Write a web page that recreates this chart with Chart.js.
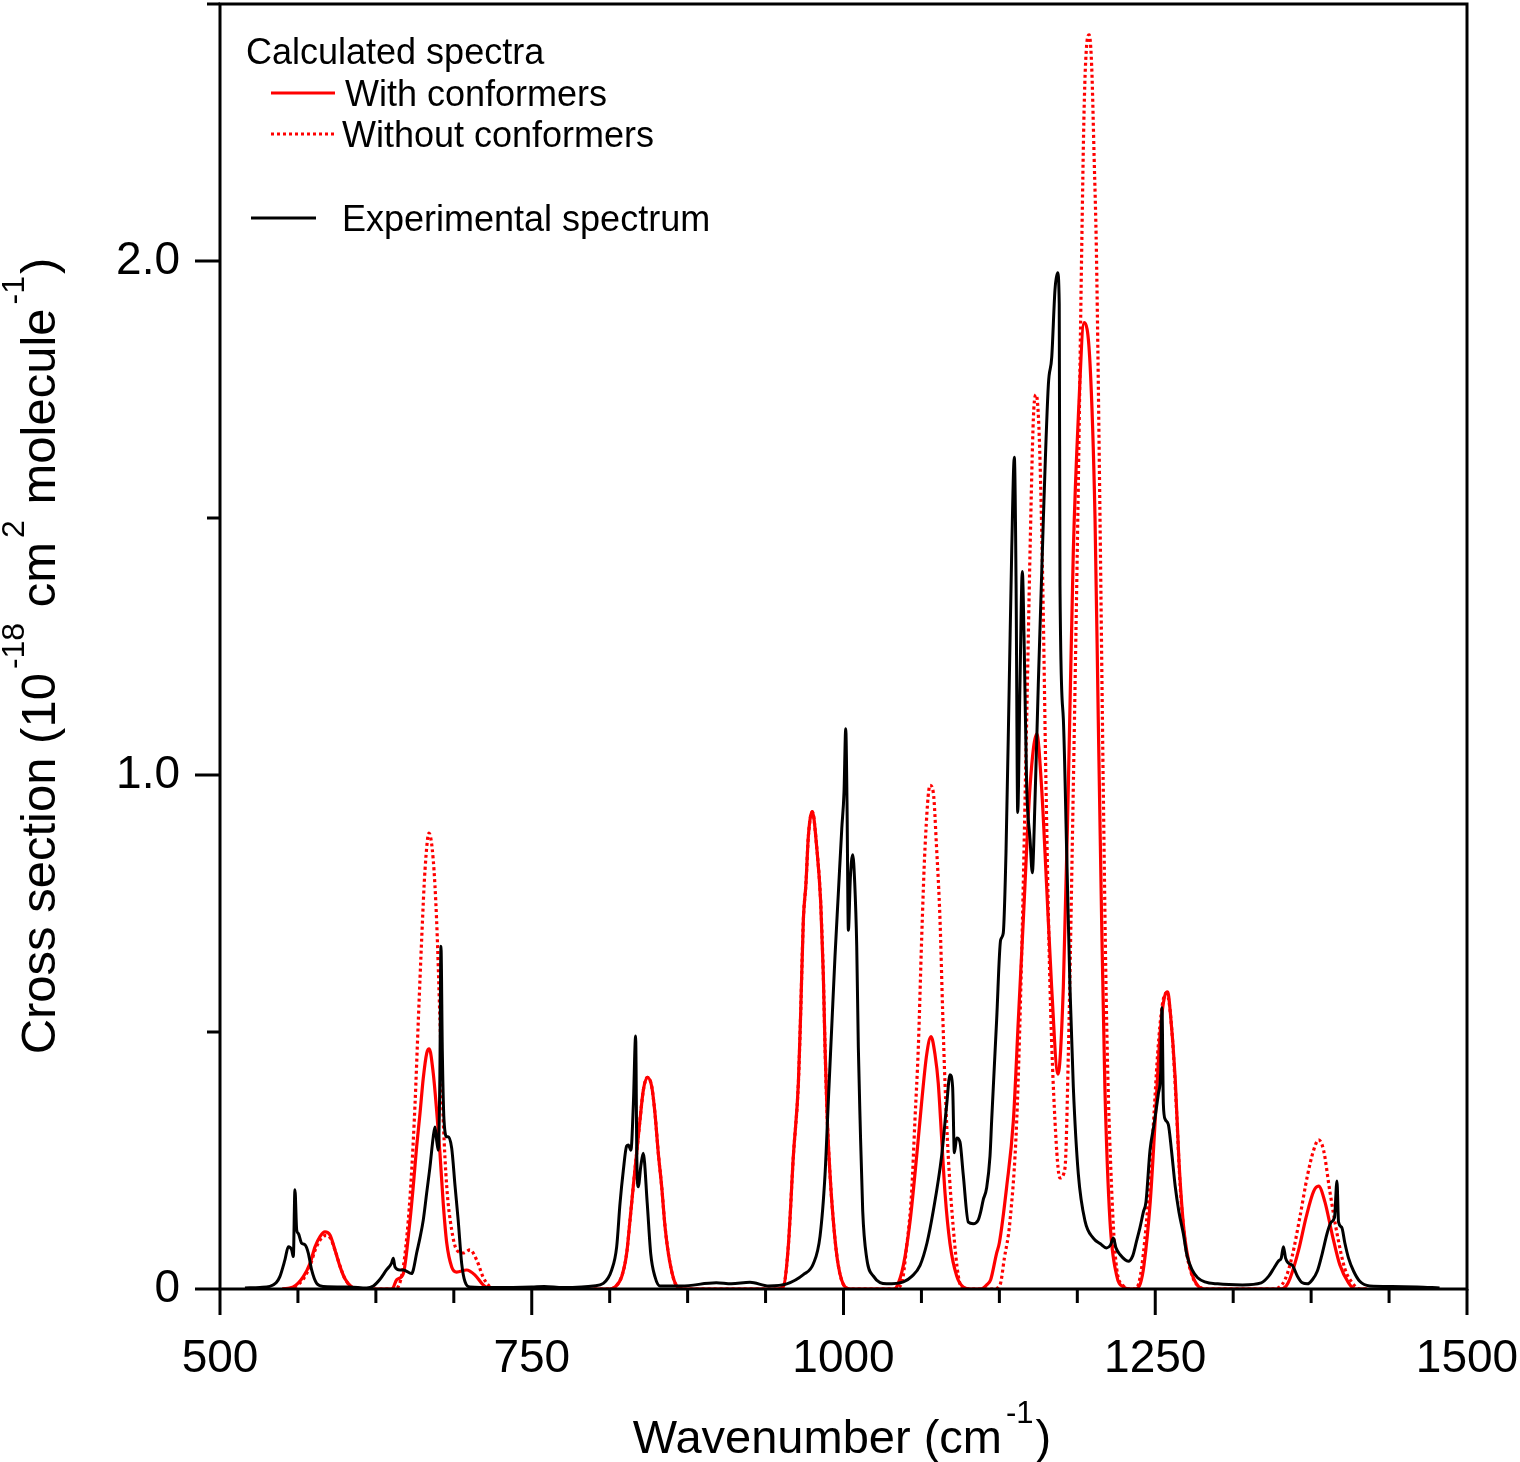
<!DOCTYPE html>
<html>
<head>
<meta charset="utf-8">
<title>IR cross section</title>
<script src="https://cdn.jsdelivr.net/npm/chart.js@4/dist/chart.umd.min.js"></script>
<style>
  html, body { margin: 0; padding: 0; background: #fff; }
  canvas { display: block; }
</style>
</head>
<body>
<canvas id="spectra" width="1520" height="1462"></canvas>
<script>
// --- Data (wavenumber in cm-1, cross section in 1e-18 cm2/molecule) ---
const expWavenumber = [
  520, 532, 540, 545, 548, 552, 554.8, 557.5, 558.8, 560.1,
  561.5, 562.8, 565.5, 568.2, 570.8, 573.5, 577.5, 583, 604, 617.6,
  623, 628, 633.5, 637.5, 639, 640.3, 644.3, 647, 653.7, 655,
  657.7, 660.4, 663, 665.7, 668.4, 671, 672.4, 673.7, 675, 676.3,
  677.2, 678.3, 679.6, 682, 683, 685.8, 688.5, 691, 693.8, 696.5,
  700.5, 720, 750, 760, 775, 790, 799.4, 807.4, 814.1, 818.1,
  820.8, 823.4, 826.1, 827.5, 829.5, 831.5, 833.3, 834.3, 835.4, 837.5,
  839.4, 842.6, 845.4, 848.8, 852.8, 870, 898, 910, 925, 940,
  954.5, 967.8, 975.8, 981.2, 985.2, 987.8, 990.5, 993.2, 995.8, 998.6,
  1000.4, 1001.8, 1002.8, 1003.9, 1005.5, 1007.4, 1009, 1010.6, 1011.9, 1013.3,
  1015.4, 1018.6, 1024, 1034.6, 1048, 1055, 1061.4, 1067, 1072, 1078.7,
  1082.7, 1085.4, 1087.5, 1088.9, 1090.8, 1093.4, 1096, 1100.1, 1104, 1108,
  1110, 1112, 1114.8, 1117.5, 1118.8, 1122.8, 1126, 1128.1, 1130.3, 1132.9,
  1134.9, 1137, 1138.4, 1139.7, 1141.5, 1143.4, 1145, 1146.9, 1149.6, 1151.4,
  1153.6, 1156.2, 1160.3, 1164.3, 1167, 1169.6, 1171.7, 1173, 1173.6, 1176.3,
  1179, 1181.6, 1184.3, 1188.3, 1193.7, 1200.3, 1206, 1211, 1214, 1216.4,
  1218.5, 1221.7, 1228.4, 1232, 1235, 1237.7, 1240.5, 1242.6, 1245.8, 1249,
  1252.5, 1254.3, 1255.4, 1256.5, 1258, 1260.5, 1263, 1266, 1269, 1272.5,
  1275.5, 1279.6, 1284, 1289.7, 1300, 1320, 1335, 1341, 1345, 1349,
  1351, 1352.8, 1354.5, 1357, 1360, 1364, 1368, 1372, 1376, 1380,
  1384, 1388, 1391, 1393.8, 1395.7, 1397, 1399.5, 1402, 1405, 1409,
  1414, 1422, 1440, 1460, 1478
];
const expCross = [
  0.002, 0.003, 0.005, 0.012, 0.024, 0.056, 0.082, 0.076, 0.063, 0.193,
  0.115, 0.108, 0.089, 0.086, 0.07, 0.037, 0.011, 0.005, 0.004, 0.002,
  0.006, 0.018, 0.037, 0.05, 0.06, 0.043, 0.037, 0.037, 0.03, 0.037,
  0.07, 0.1, 0.134, 0.186, 0.238, 0.296, 0.315, 0.29, 0.27, 0.41,
  0.667, 0.46, 0.33, 0.296, 0.296, 0.274, 0.2, 0.134, 0.05, 0.014,
  0.004, 0.003, 0.004, 0.005, 0.003, 0.004, 0.006, 0.011, 0.037, 0.082,
  0.167, 0.23, 0.278, 0.28, 0.27, 0.36, 0.492, 0.25, 0.199, 0.24,
  0.264, 0.167, 0.069, 0.024, 0.006, 0.006, 0.012, 0.01, 0.013, 0.006,
  0.01, 0.028, 0.049, 0.103, 0.223, 0.364, 0.506, 0.648, 0.767, 0.895,
  0.966, 1.09, 0.95, 0.698, 0.8, 0.845, 0.79, 0.668, 0.47, 0.329,
  0.152, 0.06, 0.025, 0.01, 0.014, 0.025, 0.046, 0.09, 0.152, 0.259,
  0.357, 0.417, 0.393, 0.265, 0.294, 0.286, 0.223, 0.13, 0.127, 0.134,
  0.15, 0.173, 0.197, 0.259, 0.327, 0.523, 0.679, 0.692, 0.848, 1.175,
  1.436, 1.618, 1.37, 0.927, 1.175, 1.396, 1.239, 0.978, 0.875, 0.81,
  0.953, 1.175, 1.5, 1.76, 1.813, 1.944, 1.977, 1.917, 1.37, 1.109,
  0.848, 0.588, 0.393, 0.224, 0.132, 0.099, 0.088, 0.08, 0.085, 0.099,
  0.08, 0.067, 0.054, 0.065, 0.093, 0.119, 0.15, 0.17, 0.27, 0.32,
  0.38, 0.42, 0.547, 0.36, 0.33, 0.32, 0.27, 0.2, 0.15, 0.108,
  0.065, 0.037, 0.022, 0.014, 0.01, 0.008, 0.012, 0.025, 0.04, 0.055,
  0.06, 0.082, 0.06, 0.05, 0.046, 0.025, 0.012, 0.01, 0.018, 0.035,
  0.07, 0.11, 0.13, 0.14, 0.21, 0.13, 0.12, 0.09, 0.06, 0.035,
  0.015, 0.006, 0.005, 0.004, 0.002
];

const withWavenumber = [
  550, 558.8, 566.8, 572.2, 576.2, 580.2, 584.2, 588.2, 592.2, 596.2,
  600.2, 605.6, 612, 638, 641.7, 647, 652.4, 655, 657.7, 660.4,
  663, 665.8, 667.8, 671, 673.7, 676.4, 679, 681.8, 685.8, 689.8,
  697.8, 704.5, 711, 716, 812, 816.8, 822.1, 826.1, 828.8, 831.4,
  834.1, 836.8, 839.5, 842.7, 846.2, 848.8, 851.5, 854.2, 856.9, 860.9,
  866.2, 872, 946, 951.7, 955.7, 959.8, 963.8, 965.7, 967.8, 969.9,
  971.8, 975, 978.5, 981.7, 983.8, 985.2, 987, 989.2, 992.4, 995.8,
  1001.2, 1006, 1040, 1042.6, 1048, 1053.3, 1058.7, 1062.7, 1066.7, 1070.2,
  1073.4, 1076, 1078.7, 1081.4, 1085.4, 1090.8, 1096, 1102, 1110, 1114.8,
  1118, 1122.8, 1125, 1130.9, 1136.2, 1140.2, 1144.2, 1149.6, 1155, 1158.8,
  1162.9, 1166.9, 1172, 1176.3, 1180.3, 1184.3, 1188.3, 1193, 1197.7, 1201.7,
  1204.3, 1207, 1209.6, 1213.7, 1219, 1224.4, 1230, 1234, 1238, 1241,
  1246, 1250, 1254, 1257.6, 1260, 1262, 1266, 1269, 1273, 1278.5,
  1285, 1290, 1350, 1355, 1358, 1365, 1371, 1377, 1381, 1386,
  1392, 1398, 1405, 1410, 1420
];
const withCross = [
  0, 0.004, 0.024, 0.05, 0.082, 0.102, 0.111, 0.105, 0.076, 0.044,
  0.02, 0.004, 0, 0, 0.018, 0.03, 0.134, 0.2, 0.277, 0.342,
  0.41, 0.459, 0.467, 0.42, 0.348, 0.264, 0.167, 0.09, 0.043, 0.033,
  0.037, 0.027, 0.008, 0, 0, 0.004, 0.024, 0.069, 0.134, 0.199,
  0.264, 0.329, 0.387, 0.412, 0.394, 0.342, 0.264, 0.199, 0.121, 0.05,
  0.006, 0, 0, 0.004, 0.082, 0.259, 0.4, 0.541, 0.718, 0.789,
  0.88, 0.929, 0.86, 0.753, 0.612, 0.47, 0.329, 0.223, 0.117, 0.046,
  0.004, 0, 0, 0.004, 0.046, 0.13, 0.259, 0.364, 0.456, 0.491,
  0.456, 0.4, 0.294, 0.187, 0.088, 0.025, 0.004, 0, 0, 0.008,
  0.018, 0.07, 0.09, 0.2, 0.327, 0.523, 0.718, 0.978, 1.08, 0.978,
  0.784, 0.588, 0.418, 0.588, 0.978, 1.436, 1.696, 1.88, 1.8, 1.5,
  1.109, 0.718, 0.393, 0.132, 0.027, 0.004, 0, 0, 0.01, 0.047,
  0.17, 0.33, 0.5, 0.57, 0.578, 0.54, 0.41, 0.25, 0.115, 0.037,
  0.004, 0, 0, 0.006, 0.02, 0.076, 0.14, 0.19, 0.2, 0.17,
  0.105, 0.047, 0.012, 0, 0
];

const withoutWavenumber = [
  550, 559, 567, 572.2, 576.2, 580.2, 584.2, 588.2, 592.2, 596.2,
  600.2, 605.6, 612, 640, 642.8, 647, 651, 653.7, 656.4, 659,
  661.8, 664.4, 667.6, 671, 673.7, 676.4, 679, 681.8, 685.8, 689.8,
  695, 700.5, 705.9, 711, 716.5, 720, 812, 816.8, 822.1, 826.1,
  828.8, 831.4, 834.1, 836.8, 839.5, 842.7, 846.2, 848.8, 851.5, 854.2,
  856.9, 860.9, 866.2, 872, 946, 951.7, 955.7, 959.8, 963.8, 965.7,
  967.8, 969.9, 971.8, 975, 978.5, 981.7, 983.8, 985.2, 987, 989.2,
  992.4, 995.8, 1001.2, 1006, 1040, 1046.5, 1050.6, 1054.6, 1057.3, 1060,
  1062.7, 1065.4, 1069.4, 1072, 1074.6, 1077.4, 1079.5, 1081.4, 1084, 1088.1,
  1092.1, 1096, 1120, 1125.5, 1129, 1133.5, 1138.9, 1142.9, 1146.9, 1149.6,
  1152.3, 1154.5, 1157, 1159.8, 1162.4, 1165.6, 1169.6, 1173.6, 1177.6, 1180.3,
  1184.3, 1188.3, 1191, 1193, 1195, 1197, 1199, 1201, 1202.8, 1205.7,
  1208.3, 1211, 1215, 1219, 1224.4, 1230, 1234, 1236, 1239, 1244,
  1248, 1252, 1255.5, 1258.5, 1261, 1264, 1267, 1270, 1274, 1279,
  1286, 1292, 1345, 1354, 1360, 1366, 1372, 1377, 1381, 1385,
  1390, 1396, 1402, 1408, 1414, 1420
];
const withoutCross = [
  0, 0.003, 0.02, 0.045, 0.075, 0.095, 0.104, 0.1, 0.076, 0.045,
  0.02, 0.004, 0, 0, 0.004, 0.043, 0.134, 0.23, 0.36, 0.52,
  0.685, 0.815, 0.887, 0.835, 0.718, 0.523, 0.33, 0.2, 0.115, 0.076,
  0.07, 0.076, 0.056, 0.023, 0.004, 0, 0, 0.004, 0.024, 0.069,
  0.134, 0.199, 0.264, 0.329, 0.387, 0.412, 0.394, 0.342, 0.264, 0.199,
  0.121, 0.05, 0.006, 0, 0, 0.004, 0.082, 0.259, 0.4, 0.541,
  0.718, 0.789, 0.88, 0.929, 0.86, 0.753, 0.612, 0.47, 0.329, 0.223,
  0.117, 0.046, 0.004, 0, 0, 0.01, 0.082, 0.187, 0.329, 0.47,
  0.683, 0.86, 0.98, 0.966, 0.86, 0.718, 0.541, 0.4, 0.259, 0.117,
  0.025, 0, 0, 0.008, 0.06, 0.132, 0.327, 0.653, 1.109, 1.436,
  1.696, 1.74, 1.657, 1.37, 0.978, 0.588, 0.327, 0.216, 0.235, 0.457,
  0.978, 1.565, 2.02, 2.3, 2.42, 2.44, 2.38, 2.2, 2.02, 1.5,
  0.978, 0.523, 0.196, 0.041, 0.006, 0, 0, 0.005, 0.04, 0.16,
  0.3, 0.46, 0.55, 0.575, 0.56, 0.48, 0.35, 0.2, 0.09, 0.03,
  0.003, 0, 0, 0.018, 0.066, 0.14, 0.22, 0.27, 0.29, 0.27,
  0.19, 0.105, 0.04, 0.012, 0, 0
];

// axis ranges and tick steps
const xRange = [500, 1500];
const yRange = [0, 2.5];
const xLabelStep = 250;
const xMinorStep = 62.5;
const yStep = 0.5;

const legendHeader = "Calculated spectra";
const xTitleParts = [
  { text: "Wavenumber (cm" }, { text: "-1", sup: true }, { text: ")" },
];
const yTitleParts = [
  { text: "Cross section (10" }, { text: "-18", sup: true },
  { text: " cm" }, { text: "2", sup: true },
  { text: " molecule" }, { text: "-1", sup: true }, { text: ")" },
];

const FONT = "'Liberation Sans', Arial, Helvetica, sans-serif";

const toPoints = (xs, ys) => xs.map((x, i) => ({ x: x, y: ys[i] }));

// draws a line of text with raised superscripts, centred on cx
function drawRich(ctx, parts, cx, baseline, size, supSize, rise) {
  let total = 0;
  parts.forEach((p) => {
    ctx.font = `${p.sup ? supSize : size}px ${FONT}`;
    p.w = ctx.measureText(p.text).width + (p.sup ? 6 : 0);
    total += p.w;
  });
  let x = cx - total / 2;
  ctx.textAlign = "left";
  ctx.textBaseline = "alphabetic";
  parts.forEach((p) => {
    ctx.font = `${p.sup ? supSize : size}px ${FONT}`;
    ctx.fillText(p.text, p.sup ? x + 4 : x, p.sup ? baseline - rise : baseline);
    x += p.w;
  });
}

// keep the plot box exactly where the original has it
function fixBox(scale, key, size) {
  scale[key] = size;
  scale.paddingLeft = 0;
  scale.paddingRight = 0;
  scale.paddingTop = 0;
  scale.paddingBottom = 0;
}

// --- Plugins ---
const frameTicks = {
  id: "frameTicks",
  afterDatasetsDraw(chart) {
    const { ctx, chartArea: a, scales } = chart;
    ctx.save();
    ctx.strokeStyle = "#000";
    ctx.lineWidth = 3;
    ctx.strokeRect(a.left, a.top, a.right - a.left, a.bottom - a.top);
    ctx.beginPath();
    for (let v = xRange[0]; v <= xRange[1] + 1e-6; v += xMinorStep) {
      const px = scales.x.getPixelForValue(v);
      const len = v % xLabelStep === 0 ? 26 : 14;
      ctx.moveTo(px, a.bottom);
      ctx.lineTo(px, a.bottom + len);
    }
    for (let v = yRange[0]; v <= yRange[1] + 1e-6; v += yStep) {
      const py = scales.y.getPixelForValue(v);
      const len = Number.isInteger(v) ? 25 : 13;
      ctx.moveTo(a.left, py);
      ctx.lineTo(a.left - len, py);
    }
    ctx.stroke();
    ctx.restore();
  },
};

const axisTitles = {
  id: "axisTitles",
  afterDraw(chart) {
    const { ctx } = chart;
    ctx.save();
    ctx.fillStyle = "#000";
    drawRich(ctx, xTitleParts, 842, 1453, 47, 31, 30);
    ctx.translate(55, 656);
    ctx.rotate(-Math.PI / 2);
    drawRich(ctx, yTitleParts, 0, 0, 49, 32, 31);
    ctx.restore();
  },
};

const spectraLegend = {
  id: "spectraLegend",
  afterDraw(chart) {
    const { ctx } = chart;
    const ds = chart.data.datasets;
    ctx.save();
    ctx.fillStyle = "#000";
    ctx.textAlign = "left";
    ctx.textBaseline = "alphabetic";
    ctx.font = `36px ${FONT}`;
    ctx.fillText(legendHeader, 246, 64);
    const rows = [
      { d: ds[1], x0: 271, x1: 335, y: 93, tx: 345, ty: 106 },
      { d: ds[2], x0: 271, x1: 335, y: 134, tx: 342, ty: 147 },
      { d: ds[0], x0: 251, x1: 316, y: 218, tx: 342, ty: 231 },
    ];
    rows.forEach((r) => {
      ctx.beginPath();
      ctx.strokeStyle = r.d.borderColor;
      ctx.lineWidth = 3;
      ctx.setLineDash(r.d.borderDash || []);
      ctx.moveTo(r.x0, r.y);
      ctx.lineTo(r.x1, r.y);
      ctx.stroke();
      ctx.setLineDash([]);
      ctx.fillText(r.d.label, r.tx, r.ty);
    });
    ctx.restore();
  },
};

new Chart(document.getElementById("spectra"), {
  type: "line",
  data: {
    datasets: [
      {
        label: "Experimental spectrum",
        data: toPoints(expWavenumber, expCross),
        borderColor: "#000000",
        borderWidth: 3,
      },
      {
        label: "With conformers",
        data: toPoints(withWavenumber, withCross),
        borderColor: "#ff0000",
        borderWidth: 3.2,
      },
      {
        label: "Without conformers",
        data: toPoints(withoutWavenumber, withoutCross),
        borderColor: "#ff0000",
        borderWidth: 3.2,
        borderDash: [3, 3],
      },
    ],
  },
  options: {
    responsive: false,
    animation: false,
    devicePixelRatio: 1,
    layout: { padding: { top: 4, right: 53, left: 0, bottom: 0 } },
    elements: {
      point: { radius: 0, hoverRadius: 0 },
      line: { cubicInterpolationMode: "monotone", fill: false },
    },
    plugins: {
      legend: { display: false },
      tooltip: { enabled: false },
    },
    scales: {
      x: {
        type: "linear",
        min: xRange[0],
        max: xRange[1],
        grid: { display: false },
        border: { display: false },
        ticks: {
          stepSize: xLabelStep,
          autoSkip: false,
          maxRotation: 0,
          color: "#000",
          padding: 35,
          font: { family: FONT, size: 46 },
          callback: (v) => String(v),
        },
        afterFit: (scale) => fixBox(scale, "height", 173),
      },
      y: {
        type: "linear",
        min: yRange[0],
        max: yRange[1],
        grid: { display: false },
        border: { display: false },
        ticks: {
          stepSize: yStep,
          autoSkip: false,
          color: "#000",
          padding: 32,
          font: { family: FONT, size: 46 },
          callback: (v) => (v === 0 ? "0" : Number.isInteger(v) ? v.toFixed(1) : ""),
        },
        afterFit: (scale) => fixBox(scale, "width", 220),
      },
    },
  },
  plugins: [frameTicks, axisTitles, spectraLegend],
});
</script>
</body>
</html>
